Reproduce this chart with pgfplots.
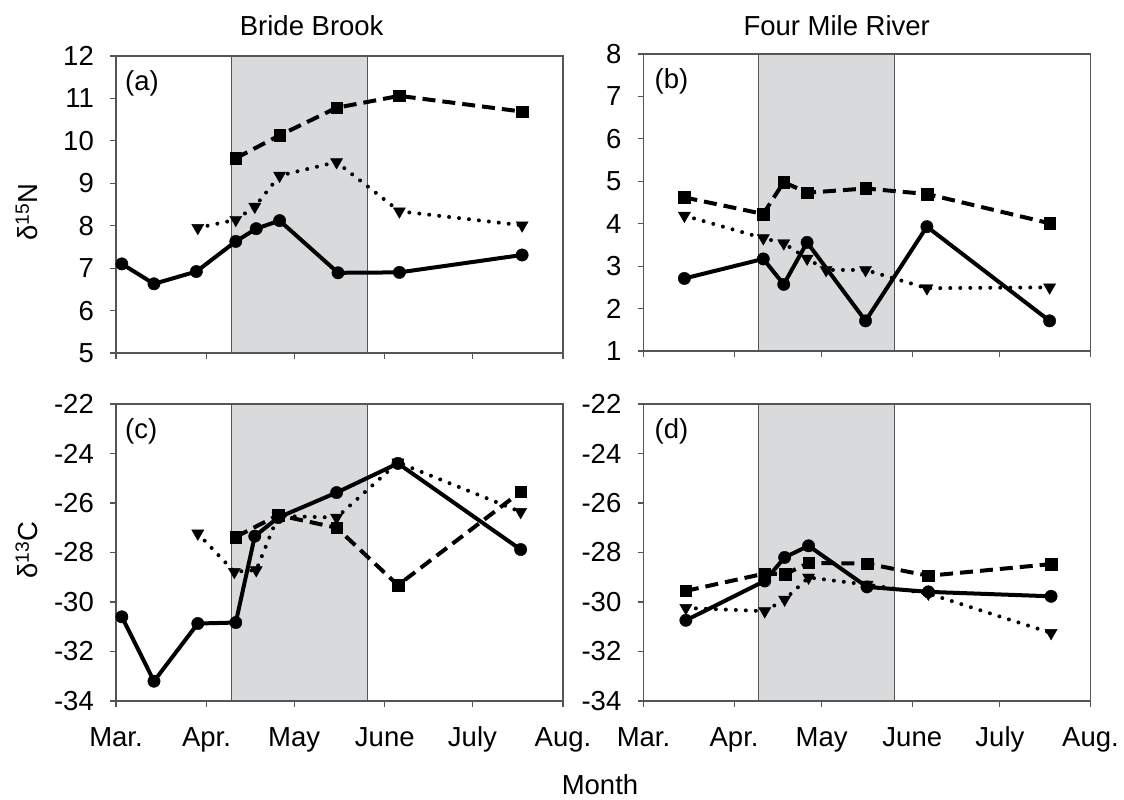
\documentclass[border=0pt]{standalone}
\usepackage{fontspec}
\setmainfont{Liberation Sans}
\usepackage{pgfplots}
\pgfplotsset{compat=1.18}
\definecolor{shade}{RGB}{217,218,220}
\definecolor{axgray}{RGB}{85,85,85}
\newcommand{\figfont}{\fontsize{27.5}{31}\selectfont}
\pgfplotsset{
  panel/.style={
    scale only axis, width=447pt, height=297pt,
    xmin=0, xmax=153, clip=false, axis on top,
    xtick={0,31,61,92,122,153},
    axis line style={axgray, line width=1.1pt},
    every tick/.style={axgray, line width=1.1pt},
    tick align=outside, major tick length=6pt,
    xtick pos=left, ytick pos=left,
    tick label style={font=\figfont},
    xticklabel style={text height=35.5pt, text depth=6pt},
    yticklabel style={inner xsep=16pt},
    /pgf/number format/assume math mode=true,
  },
  solidS/.style={black, line width=4pt, line join=round, mark=*, mark size=6.2pt,
    mark options={solid, line width=0.4pt}},
  dashS/.style={black, line width=4pt, dash pattern=on 13pt off 7pt, mark=square*, mark size=5.8pt,
    mark options={solid, line width=0.4pt}},
  dotS/.style={black, line width=4pt, line cap=round, dash pattern=on 0pt off 10pt, mark=triangle*, mark size=7pt,
    mark options={solid, line width=0.4pt, rotate=180}},
}
\begin{document}
\begin{tikzpicture}[x=1pt,y=1pt]
\path[use as bounding box] (0,0) rectangle (1124,800);

% (a)
\begin{axis}[panel, at={(116pt,447pt)}, anchor=south west,
  ymin=5, ymax=12, ytick={5,6,...,12}, xticklabels={}]
\draw[fill=shade, draw=axgray, line width=1.1pt] (axis cs:39.5,5) rectangle (axis cs:86,12);
\addplot[dashS] coordinates {(41,9.59)(56,10.13)(75.5,10.78)(97,11.06)(139,10.69)};
\addplot[dotS] coordinates {(28,7.95)(41,8.14)(47.5,8.45)(56,9.18)(75.5,9.50)(97,8.34)(139,8.01)};
\addplot[solidS] coordinates {(2,7.10)(13,6.63)(27.5,6.92)(41,7.63)(48,7.93)(56,8.12)(76,6.89)(97,6.90)(139,7.31)};
\node[anchor=north west, inner sep=0pt, font=\figfont, xshift=9pt, yshift=-14pt] at (rel axis cs:0,1) {(a)};
\end{axis}

% (b)
\begin{axis}[panel, at={(643.5pt,449pt)}, anchor=south west,
  ymin=1, ymax=8, ytick={1,2,...,8}, xticklabels={}]
\draw[fill=shade, draw=axgray, line width=1.1pt] (axis cs:39.5,1) rectangle (axis cs:86,8);
\addplot[dashS] coordinates {(14,4.62)(41,4.23)(48,4.98)(56,4.73)(76,4.83)(97,4.70)(139,4.01)};
\addplot[dotS] coordinates {(14,4.19)(41,3.66)(48,3.54)(56,3.18)(62.5,2.91)(76,2.91)(97,2.48)(139,2.50)};
\addplot[solidS] coordinates {(14,2.71)(41,3.17)(48,2.57)(56,3.56)(76,1.71)(97,3.93)(139,1.71)};
\node[anchor=north west, inner sep=0pt, font=\figfont, xshift=11pt, yshift=-14pt] at (rel axis cs:0,1) {(b)};
\end{axis}

% (c)
\begin{axis}[panel, at={(116pt,99pt)}, anchor=south west,
  ymin=-34, ymax=-22, ytick={-34,-32,...,-22},
  xticklabels={Mar.,Apr.,May,June,July,Aug.}]
\draw[fill=shade, draw=axgray, line width=1.1pt] (axis cs:39.5,-34) rectangle (axis cs:86,-22);
\addplot[dashS] coordinates {(41,-27.37)(55.5,-26.49)(75.5,-27.0)(96.5,-29.32)(138.5,-25.55)};
\addplot[dotS] coordinates {(28,-27.23)(40.5,-28.78)(48,-28.71)(55.5,-26.52)(75.5,-26.59)(96.5,-24.36)(138.5,-26.36)};
\addplot[solidS] coordinates {(2,-30.60)(13,-33.2)(28,-30.87)(41,-30.83)(47.5,-27.34)(55.5,-26.59)(75.5,-25.58)(96.5,-24.40)(138.5,-27.88)};
\node[anchor=north west, inner sep=0pt, font=\figfont, xshift=9pt, yshift=-14pt] at (rel axis cs:0,1) {(c)};
\end{axis}

% (d)
\begin{axis}[panel, at={(643.5pt,99pt)}, anchor=south west,
  ymin=-34, ymax=-22, ytick={-34,-32,...,-22},
  xticklabels={Mar.,Apr.,May,June,July,Aug.}]
\draw[fill=shade, draw=axgray, line width=1.1pt] (axis cs:39.5,-34) rectangle (axis cs:86,-22);
\addplot[dashS] coordinates {(14.5,-29.55)(41.5,-28.85)(48.5,-28.88)(56.5,-28.42)(76.5,-28.45)(97.5,-28.94)(139.5,-28.47)};
\addplot[dotS] coordinates {(14.5,-30.24)(41.5,-30.37)(48.3,-29.90)(56.5,-29.01)(76.5,-29.3)(97.5,-29.66)(139.5,-31.25)};
\addplot[solidS] coordinates {(14.5,-30.74)(41.5,-29.15)(48.3,-28.2)(56.5,-27.73)(76.5,-29.39)(97.5,-29.59)(139.5,-29.77)};
\node[anchor=north west, inner sep=0pt, font=\figfont, xshift=11pt, yshift=-14pt] at (rel axis cs:0,1) {(d)};
\end{axis}

\node[anchor=base, font=\figfont] at (311.7,764.3) {Bride Brook};
\node[anchor=base, font=\figfont] at (836.7,764.3) {Four Mile River};
\node[anchor=base, font=\figfont] at (600,5) {Month};
\node[anchor=base, rotate=90, font=\figfont] at (38,588) {δ\textsuperscript{15}N};
\node[anchor=base, rotate=90, font=\figfont] at (38,250) {δ\textsuperscript{13}C};
\end{tikzpicture}
\end{document}
